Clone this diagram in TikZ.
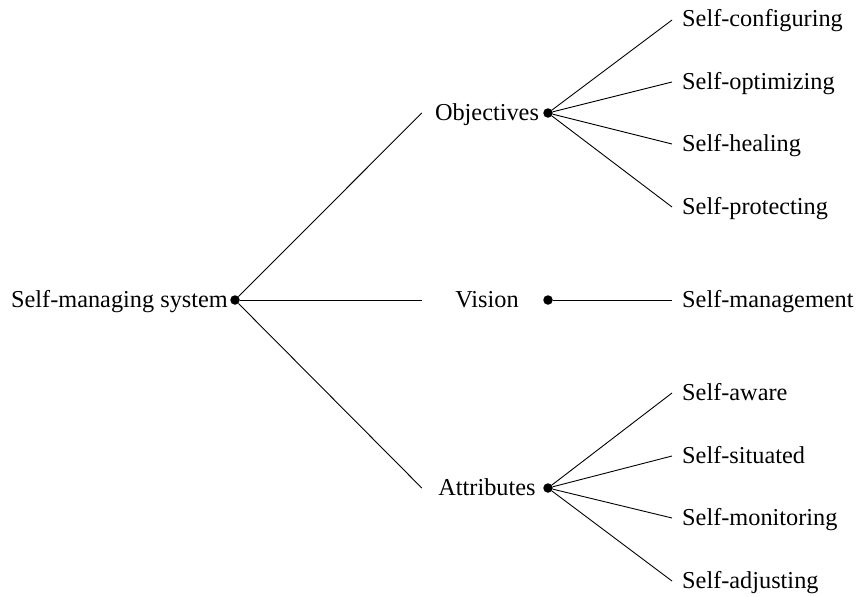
\documentclass[tikz,border=0pt]{standalone}
\usepackage{fontspec}
\setmainfont{Liberation Serif}
\begin{document}
\begin{tikzpicture}[x=1pt,y=-1pt,
  every node/.style={font=\fontsize{24.3}{29}\selectfont},
  lbl/.style={inner sep=0pt, text height=14pt, text depth=0pt},
  midlbl/.style={lbl, minimum width=130pt},
  leaflbl/.style={lbl, anchor=west, inner xsep=10pt},
  hub/.style={circle, fill=black, inner sep=0pt, minimum size=9.5pt},
  branch/.style={line width=0.9pt}]
\useasboundingbox (0,0) rectangle (857,597);

% root
\node[lbl, anchor=east] (root) at (228,300) {Self-managing system};
\node[hub] (rootdot) at (235,300) {};

% second level
\node[midlbl] (obj) at (487,113) {Objectives};
\node[hub] (objdot) at (548,113) {};
\node[midlbl] (vis) at (487,300) {Vision};
\node[hub] (visdot) at (548,300) {};
\node[midlbl] (att) at (487,488) {Attributes};
\node[hub] (attdot) at (548,488) {};

% leaves
\node[leaflbl] (cfg) at (672,20)  {Self-configuring};
\node[leaflbl] (opt) at (672,82)  {Self-optimizing};
\node[leaflbl] (hea) at (672,144) {Self-healing};
\node[leaflbl] (pro) at (672,207) {Self-protecting};
\node[leaflbl] (mgt) at (672,300) {Self-management};
\node[leaflbl] (awa) at (672,393) {Self-aware};
\node[leaflbl] (sit) at (672,456) {Self-situated};
\node[leaflbl] (mon) at (672,518) {Self-monitoring};
\node[leaflbl] (adj) at (672,581) {Self-adjusting};

% connectors
\draw[branch] (rootdot) -- (obj.west);
\draw[branch] (rootdot) -- (vis.west);
\draw[branch] (rootdot) -- (att.west);
\foreach \leaf in {cfg,opt,hea,pro}
  \draw[branch] (objdot) -- (\leaf.west);
\draw[branch] (visdot) -- (mgt.west);
\foreach \leaf in {awa,sit,mon,adj}
  \draw[branch] (attdot) -- (\leaf.west);
\end{tikzpicture}
\end{document}
